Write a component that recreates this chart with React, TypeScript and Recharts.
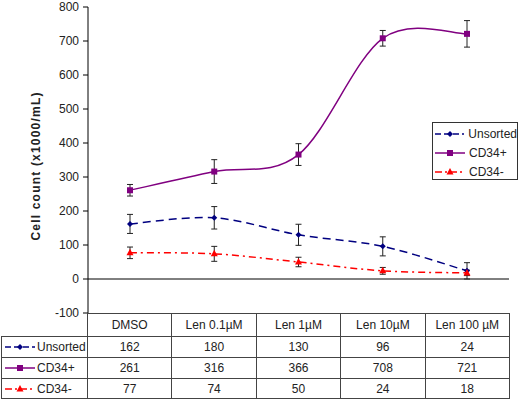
import { LineChart, Line, XAxis, YAxis, ErrorBar, ReferenceLine, Legend } from 'recharts'

const CATEGORIES = ['DMSO', 'Len 0.1µM', 'Len 1µM', 'Len 10µM', 'Len 100 µM']
const Y_TICKS = [-100, 0, 100, 200, 300, 400, 500, 600, 700, 800]

const UNSORTED = [162, 180, 130, 96, 24]
const UNSORTED_ERR = [28, 33, 31, 28, 24]
const CD34_POS = [261, 316, 366, 708, 721]
const CD34_POS_ERR = [17, 35, 32, 23, 39]
const CD34_NEG = [77, 74, 50, 24, 18]
const CD34_NEG_ERR = [17, 22, 14, 10, 8]

const FONT = '"Liberation Sans", Arial, sans-serif'

type Series = {
  key: string
  name: string
  color: string
  dash?: string
  marker: 'diamond' | 'square' | 'triangle'
  values: number[]
  errors: number[]
}

const SERIES: Series[] = [
  { key: 'unsorted', name: 'Unsorted', color: '#000080', dash: '8 5', marker: 'diamond', values: UNSORTED, errors: UNSORTED_ERR },
  { key: 'cd34pos', name: 'CD34+', color: '#800080', marker: 'square', values: CD34_POS, errors: CD34_POS_ERR },
  { key: 'cd34neg', name: 'CD34-', color: '#ff0000', dash: '7 4 2 4', marker: 'triangle', values: CD34_NEG, errors: CD34_NEG_ERR },
]

const data = CATEGORIES.map((name, i) => {
  const row: Record<string, any> = { name }
  SERIES.forEach(s => {
    row[s.key] = s.values[i]
    row[s.key + 'Err'] = s.errors[i]
  })
  return row
})

// excel style smoothed line (catmull-rom through the points)
function smoothCurve(context: any) {
  let pts: [number, number][] = []
  return {
    areaStart() {},
    areaEnd() {},
    lineStart() { pts = [] },
    lineEnd() {
      if (!pts.length) return
      context.moveTo(pts[0][0], pts[0][1])
      for (let i = 0; i < pts.length - 1; i++) {
        const p0 = pts[i - 1] || pts[i]
        const p1 = pts[i]
        const p2 = pts[i + 1]
        const p3 = pts[i + 2] || p2
        context.bezierCurveTo(
          p1[0] + (p2[0] - p0[0]) / 6, p1[1] + (p2[1] - p0[1]) / 6,
          p2[0] - (p3[0] - p1[0]) / 6, p2[1] - (p3[1] - p1[1]) / 6,
          p2[0], p2[1],
        )
      }
    },
    point(x: number, y: number) { pts.push([x, y]) },
  }
}

function markerShape(shape: string, cx: number, cy: number, color: string, key?: any) {
  if (shape === 'square') return <rect key={key} x={cx - 3} y={cy - 3} width={6} height={6} fill={color} />
  if (shape === 'triangle') return <polygon key={key} points={`${cx},${cy - 4} ${cx + 3.5},${cy + 2.5} ${cx - 3.5},${cy + 2.5}`} fill={color} />
  return <polygon key={key} points={`${cx},${cy - 3} ${cx + 3},${cy} ${cx},${cy + 3} ${cx - 3},${cy}`} fill={color} />
}

function KeyIcon({ s }: { s: Series }) {
  return (
    <svg width={30} height={10} style={{ display: 'block' }}>
      <line x1={0} y1={5} x2={30} y2={5} stroke={s.color} strokeWidth={1.5} strokeDasharray={s.dash ? (s.marker === 'triangle' ? '7 3 2 3' : '6 3') : undefined} />
      {markerShape(s.marker, 15, 5, s.color)}
    </svg>
  )
}

function LegendBox() {
  return (
    <div style={{ border: '1px solid #333', background: '#fff', width: 86, height: 58, boxSizing: 'border-box', padding: '1px 0 0 2px', fontFamily: FONT, fontSize: 12, color: '#222' }}>
      {SERIES.map(s => (
        <div key={s.key} style={{ display: 'flex', alignItems: 'center', height: 19 }}>
          <KeyIcon s={s} />
          <span style={{ marginLeft: 4 }}>{s.name}</span>
        </div>
      ))}
    </div>
  )
}

function YLabel() {
  return (
    <text x={37} y={166} transform="rotate(-90, 37, 166)" textAnchor="middle" dominantBaseline="middle"
      fontFamily={FONT} fontSize={12} fontWeight="bold" fill="#222" letterSpacing={1.2}>
      Cell count (x1000/mL)
    </text>
  )
}

const border = '1px solid #444'

function DataTable() {
  const cell = { border, textAlign: 'center' as const, padding: 0, fontFamily: FONT, fontSize: 12, color: '#222' }
  return (
    <table style={{ position: 'absolute', left: 1, top: 313, width: 508, borderCollapse: 'collapse', tableLayout: 'fixed' }}>
      <colgroup>
        <col style={{ width: 86 }} />
        {CATEGORIES.map(c => <col key={c} style={{ width: 84.4 }} />)}
      </colgroup>
      <tbody>
        <tr style={{ height: 23 }}>
          <td style={{ ...cell, borderTop: 'none', borderLeft: 'none' }}></td>
          {CATEGORIES.map(c => <td key={c} style={cell}>{c}</td>)}
        </tr>
        {SERIES.map((s, i) => (
          <tr key={s.key} style={{ height: i === 2 ? 20 : 21 }}>
            <td style={{ ...cell, textAlign: 'left' }}>
              <div style={{ display: 'flex', alignItems: 'center', paddingLeft: 3 }}>
                <KeyIcon s={s} />
                <span style={{ marginLeft: 2 }}>{s.name}</span>
              </div>
            </td>
            {s.values.map((v, j) => <td key={j} style={cell}>{v}</td>)}
          </tr>
        ))}
      </tbody>
    </table>
  )
}

export default function App() {
  return (
    <div style={{ position: 'absolute', left: 0, top: 0, width: 520, height: 399, background: '#fff' }}>
      <LineChart width={520} height={399} data={data} margin={{ top: 7, right: 11, bottom: 86, left: 0 }}>
        <XAxis dataKey="name" hide padding={{ left: 42, right: 42 }} />
        <YAxis
          domain={[-100, 800]}
          ticks={Y_TICKS}
          interval={0}
          width={88}
          tickSize={5}
          tickMargin={4}
          axisLine={{ stroke: '#000' }}
          tickLine={{ stroke: '#000' }}
          tick={{ fill: '#222', fontSize: 12, fontFamily: FONT }}
          label={<YLabel />}
        />
        <ReferenceLine y={0} stroke="#000" strokeWidth={1} />
        {SERIES.map(s => (
          <Line
            key={s.key}
            dataKey={s.key}
            name={s.name}
            type={smoothCurve as any}
            stroke={s.color}
            strokeWidth={1.5}
            strokeDasharray={s.dash}
            dot={(p: any) => markerShape(s.marker, p.cx, p.cy, s.color, p.index)}
            activeDot={false}
            isAnimationActive={false}
          >
            <ErrorBar dataKey={s.key + 'Err'} direction="y" width={3} stroke="#222" strokeWidth={1} />
          </Line>
        ))}
        <Legend
          layout="vertical"
          align="center"
          verticalAlign="middle"
          content={<LegendBox />}
          wrapperStyle={{ position: 'absolute', left: 432, top: 122, width: 86 }}
        />
      </LineChart>
      <DataTable />
    </div>
  )
}
